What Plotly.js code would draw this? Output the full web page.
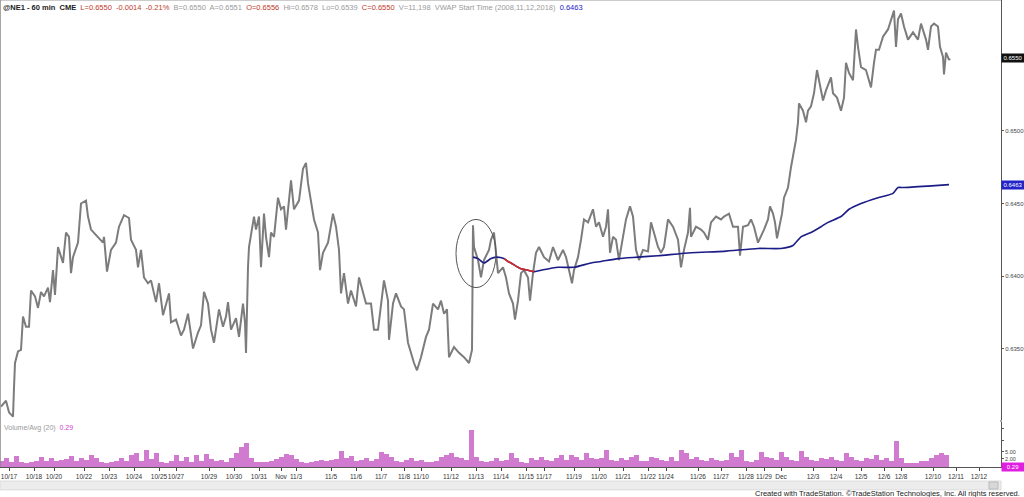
<!DOCTYPE html>
<html>
<head>
<meta charset="utf-8">
<script src="https://cdn.plot.ly/plotly-3.0.1.min.js"></script>
<style>
  html, body { margin: 0; padding: 0; background: #fff; }
  #chart { width: 1024px; height: 497px; }
</style>
</head>
<body>
<div id="chart"></div>
<script>
// ---- Price path (hourly bar index, close) ----
const priceBars = [0,5,8,12,13,14,17,20,22,25,28,30,34,37,40,43,47,49,52,54,57,62,65,68,70,72,77,80,85,87,90,97,102,103,106,110,115,118,123,128,130,135,137,140,143,147,150,155,158,162,165,168,170,175,180,183,187,192,197,200,203,207,210,213,218,222,225,227,230,235,238,242,244,245,247,248,253,255,258,260,263,265,268,270,273,277,280,283,285,290,293,298,302,305,307,310,313,317,319,322,327,332,335,338,340,343,347,350,355,358,362,365,370,373,377,380,383,387,388,392,395,400,403,407,410,413,416,420,425,428,432,437,440,443,446,448,453,458,463,468,471,472,473,477,480,483,488,490,493,495,497,502,505,508,512,514,517,520,523,527,529,532,535,538,543,548,552,557,562,565,568,571,573,577,580,583,587,592,595,598,602,605,607,609,612,615,618,622,625,629,632,635,638,642,647,650,653,657,660,663,667,672,677,680,683,687,689,690,695,700,703,707,710,715,720,723,728,732,737,739,742,747,750,753,757,760,763,767,769,772,774,776,778,781,783,787,790,793,795,797,798,802,805,807,810,813,816,818,822,825,830,832,836,840,843,845,848,852,855,857,860,865,870,873,875,878,882,887,891,893,895,897,900,903,907,912,917,920,925,927,930,933,937,939,942,943,945,948,949];
const priceClose = [0.6310,0.6314,0.6306,0.6303,0.6323,0.6340,0.6348,0.6349,0.6372,0.6365,0.6365,0.6390,0.6386,0.6378,0.6389,0.6386,0.6392,0.6382,0.6404,0.6387,0.6420,0.6409,0.6430,0.6427,0.6402,0.6413,0.6423,0.6450,0.6452,0.6441,0.6432,0.6427,0.6423,0.6427,0.6403,0.6418,0.6423,0.6434,0.6442,0.6440,0.6425,0.6418,0.6406,0.6418,0.6399,0.6395,0.6397,0.6382,0.6395,0.6373,0.6381,0.6388,0.6368,0.6370,0.6359,0.6363,0.6374,0.6350,0.6361,0.6366,0.6389,0.6381,0.6363,0.6354,0.6377,0.6365,0.6372,0.6382,0.6363,0.6371,0.6358,0.6381,0.6368,0.6347,0.6406,0.6420,0.6441,0.6432,0.6441,0.6406,0.6443,0.6427,0.6413,0.6430,0.6427,0.6454,0.6446,0.6448,0.6432,0.6466,0.6446,0.6452,0.6474,0.6478,0.6464,0.6452,0.6439,0.6430,0.6404,0.6416,0.6423,0.6443,0.6434,0.6418,0.6388,0.6402,0.6381,0.6390,0.6379,0.6399,0.6388,0.6381,0.6381,0.6363,0.6363,0.6381,0.6397,0.6383,0.6356,0.6381,0.6388,0.6379,0.6377,0.6354,0.6347,0.6340,0.6335,0.6344,0.6358,0.6363,0.6381,0.6377,0.6383,0.6374,0.6377,0.6344,0.6351,0.6347,0.6344,0.6340,0.6349,0.6435,0.6420,0.6411,0.6399,0.6411,0.6418,0.6425,0.6430,0.6416,0.6402,0.6406,0.6399,0.6388,0.6381,0.6370,0.6383,0.6402,0.6404,0.6399,0.6383,0.6402,0.6416,0.6420,0.6413,0.6410,0.6420,0.6411,0.6418,0.6413,0.6404,0.6395,0.6404,0.6413,0.6425,0.6439,0.6437,0.6446,0.6434,0.6437,0.6427,0.6434,0.6446,0.6416,0.6427,0.6425,0.6411,0.6427,0.6439,0.6448,0.6441,0.6418,0.6411,0.6418,0.6417,0.6437,0.6430,0.6420,0.6416,0.6420,0.6439,0.6434,0.6425,0.6406,0.6418,0.6430,0.6447,0.6427,0.6434,0.6432,0.6430,0.6425,0.6437,0.6441,0.6439,0.6441,0.6443,0.6434,0.6434,0.6414,0.6434,0.6435,0.6439,0.6434,0.6423,0.6427,0.6432,0.6439,0.6448,0.6443,0.6437,0.6426,0.6432,0.6443,0.6454,0.6461,0.6475,0.6485,0.6494,0.6506,0.6519,0.6514,0.6506,0.6514,0.6517,0.6526,0.6542,0.6535,0.6521,0.6528,0.6537,0.6526,0.6523,0.6514,0.6523,0.6547,0.6540,0.6535,0.6570,0.6558,0.6544,0.6542,0.6530,0.6547,0.6556,0.6556,0.6565,0.6570,0.6579,0.6583,0.6558,0.6577,0.6581,0.6572,0.6563,0.6568,0.6563,0.6574,0.6563,0.6556,0.6572,0.6574,0.6572,0.6558,0.6551,0.6539,0.6554,0.6549,0.6550];

// ---- VWAP anchored at 2008,11,12 ----
const vwapBars = [472,477,483,490,495,503,507,510,517,520,527,533,540,557,573,590,600,617,637,657,690,723,757,780,792,800,810,820,827,840,848,860,877,892,897,903,927,948];
const vwapVals = [0.6413,0.6412,0.6409,0.6412,0.6413,0.6412,0.6410,0.6409,0.6406,0.6405,0.6404,0.6403,0.6404,0.6406,0.6406,0.6409,0.6410,0.6412,0.6413,0.6414,0.6416,0.6417,0.6419,0.6419,0.6421,0.6427,0.6430,0.6434,0.6437,0.6441,0.6446,0.6450,0.6454,0.6457,0.6461,0.6461,0.6462,0.6463];
const vwapRedFrom = 503, vwapRedTo = 533;

// ---- Volume / Avg(20), one reading per 5 bars ----
const volStep = 5;
const volRatio = [1.0,2.6,0.8,3.4,0.6,0.4,0.5,1.3,2.8,1.2,2.2,0.9,1.4,2.0,3.4,1.2,2.4,1.5,3.8,2.6,0.5,0.4,0.6,1.0,2.6,1.0,3.5,4.6,1.2,5.8,1.8,4.4,0.6,0.4,1.3,3.5,1.0,2.7,0.8,3.6,1.2,4.2,2.0,0.9,1.5,0.8,2.2,4.5,7.3,9.0,2.5,0.7,0.5,0.6,0.9,2.0,2.8,4.2,3.9,2.0,0.6,0.4,0.5,1.2,1.5,1.0,1.4,2.0,5.6,2.5,3.3,1.0,1.4,2.2,1.0,2.0,5.1,4.0,3.0,1.2,0.8,1.5,2.2,1.0,1.5,0.8,0.7,1.0,3.0,3.7,4.4,3.0,2.2,1.5,14.5,3.0,1.0,0.8,1.0,2.2,1.0,1.5,4.4,2.2,0.5,0.4,2.2,1.6,3.0,1.5,1.2,2.2,3.7,1.4,3.7,3.0,1.5,4.4,2.2,1.8,2.2,6.0,1.5,1.0,2.2,1.4,3.0,3.7,0.9,1.2,3.0,2.2,1.5,1.2,3.0,1.0,5.8,4.4,1.8,3.0,1.5,1.0,2.2,1.5,1.2,1.5,4.4,3.0,6.0,1.0,0.8,1.5,5.0,3.0,2.2,1.5,5.0,3.0,1.5,1.0,5.6,3.0,1.5,1.0,2.2,1.8,3.0,1.5,1.0,4.4,3.0,1.5,1.0,2.2,2.0,3.7,1.5,2.2,1.0,9.9,2.2,0.2,0.2,0.3,1.0,1.2,2.2,3.7,4.4,3.7];
const volLast = 0.29;

// ---- Date tick labels (bar index where each session starts) ----
const tickBars = [8,33,53,83,108,133,158,175,208,233,258,280,295,330,355,380,403,420,450,475,500,525,543,573,598,622,647,665,697,720,745,763,780,812,835,860,883,900,932,955,978];
const tickLabels = ['10/17','10/18','10/20','10/22','10/23','10/24','10/25','10/27','10/29','10/30','10/31','Nov','11/3','11/5','11/6','11/7','11/8','11/10','11/12','11/13','11/14','11/15','11/17','11/19','11/20','11/21','11/22','11/24','11/26','11/27','11/28','11/29','Dec','12/3','12/4','12/5','12/6','12/8','12/10','12/11','12/12'];

const priceTicks = [0.6350,0.6400,0.6450,0.6500];
const lastPrice = 0.6550, lastVwap = 0.6463;

// ---- build ----
const VOL_FLOOR = -1.5;
const volBars = volRatio.map((v, i) => i * volStep);
const redIdx = vwapBars.map((b, i) => i).filter(i => vwapBars[i] >= vwapRedFrom && vwapBars[i] <= vwapRedTo);

const traces = [
  { type: 'bar', x: volBars, y: volRatio.map(v => v - VOL_FLOOR), base: VOL_FLOOR,
    width: 5, marker: { color: '#d07ad0', line: { width: 0 } }, xaxis: 'x', yaxis: 'y2', hoverinfo: 'skip' },
  { type: 'scatter', mode: 'lines', x: priceBars, y: priceClose,
    line: { color: '#7c7c7c', width: 2 }, xaxis: 'x', yaxis: 'y', hoverinfo: 'skip' },
  { type: 'scatter', mode: 'lines', x: vwapBars, y: vwapVals,
    line: { color: '#1c1c86', width: 1.6, shape: 'spline', smoothing: 0.6 }, xaxis: 'x', yaxis: 'y', hoverinfo: 'skip' },
  { type: 'scatter', mode: 'lines', x: redIdx.map(i => vwapBars[i]), y: redIdx.map(i => vwapVals[i]),
    line: { color: '#d42a2a', width: 1.6, shape: 'spline', smoothing: 0.6 }, xaxis: 'x', yaxis: 'y', hoverinfo: 'skip' }
];

const header =
  '<b>@NE1 - 60 min  CME</b>  ' +
  '<span style="color:#c0392b">L=0.6550  -0.0014  -0.21%</span>  ' +
  '<span style="color:#9a9a9a">B=0.6550  A=0.6551</span>  ' +
  '<span style="color:#c0392b">O=0.6556</span>  ' +
  '<span style="color:#9a9a9a">Hi=0.6578  Lo=0.6539</span>  ' +
  '<span style="color:#c0392b">C=0.6550</span>  ' +
  '<span style="color:#9a9a9a">V=11,198  VWAP Start Time (2008,11,12,2018)</span>  ' +
  '<span style="color:#2323c8">0.6463</span>';

const layout = {
  width: 1024, height: 497,
  margin: { l: 0, r: 23, t: 0, b: 30, pad: 0 },
  paper_bgcolor: '#ffffff', plot_bgcolor: '#ffffff',
  showlegend: false,
  bargap: 0,
  font: { family: 'Liberation Sans, Arial, sans-serif', size: 7, color: '#333' },
  xaxis: {
    range: [-1, 1000], anchor: 'y2', showgrid: false, zeroline: false,
    tickmode: 'array', tickvals: tickBars, ticktext: tickLabels, tickangle: 0,
    ticks: 'outside', ticklen: 3, tickcolor: '#444', showline: true, linecolor: '#555', linewidth: 1,
    tickfont: { size: 6.5, color: '#333' }
  },
  yaxis: {
    domain: [0.1006, 1], range: [0.63007, 0.65903], side: 'right', anchor: 'x',
    showgrid: false, zeroline: false, tickmode: 'array', tickvals: priceTicks,
    ticktext: priceTicks.map(v => v.toFixed(4)), ticks: 'outside', ticklen: 2, tickcolor: '#555',
    ticklabelstandoff: 0,
    showline: true, linecolor: '#555', linewidth: 1, tickfont: { size: 6, color: '#444' }
  },
  yaxis2: {
    domain: [0, 0.0964], range: [VOL_FLOOR, 18], side: 'right', anchor: 'x',
    showgrid: false, zeroline: false, tickmode: 'array', tickvals: [2, 5, 10, 15],
    ticktext: ['2.00', '5.00', '', ''], ticks: 'outside', ticklen: 2, tickcolor: '#555',
    ticklabelstandoff: 0,
    showline: true, linecolor: '#555', linewidth: 1, tickfont: { size: 5.5, color: '#444' }
  },
  shapes: [
    { type: 'line', xref: 'paper', yref: 'paper', x0: 0, x1: 0, y0: 0, y1: 1, line: { color: '#888', width: 1.5 } },
    { type: 'line', xref: 'paper', yref: 'paper', x0: 0, x1: 1, y0: 1, y1: 1, line: { color: '#999', width: 1 } },
    { type: 'line', xref: 'paper', yref: 'paper', x0: 1, x1: 1, y0: 0.0964, y1: 0.1006, line: { color: '#555', width: 1 } },
    { type: 'circle', xref: 'x', yref: 'y', x0: 455, x1: 495, y0: 0.6392, y1: 0.6439, line: { color: '#555', width: 1 } },
    { type: 'rect', xref: 'paper', yref: 'paper', x0: 0, x1: 1.0, y0: -0.030, y1: -0.049, fillcolor: '#ececec', line: { color: '#dcdcdc', width: 1 } },
    { type: 'rect', xref: 'paper', yref: 'paper', x0: 0.988, x1: 0.997, y0: -0.032, y1: -0.047, fillcolor: '#d8d8d8', line: { color: '#bbb', width: 1 } }
  ],
  annotations: [
    { xref: 'paper', yref: 'paper', x: 0.001, y: 0.997, xanchor: 'left', yanchor: 'top', showarrow: false,
      text: header, font: { size: 7.5, color: '#222' } },
    { xref: 'paper', yref: 'paper', x: 0.002, y: 0.097, xanchor: 'left', yanchor: 'top', showarrow: false,
      text: '<span style="color:#999">Volume/Avg (20)</span>  <span style="color:#d040d0">0.29</span>', font: { size: 7 } },
    { xref: 'paper', yref: 'y', x: 1.0, y: lastPrice, xanchor: 'left', yanchor: 'middle', showarrow: false,
      text: lastPrice.toFixed(4), bgcolor: '#111', font: { size: 6, color: '#fff' }, borderpad: 1, width: 20 },
    { xref: 'paper', yref: 'y', x: 1.0, y: lastVwap, xanchor: 'left', yanchor: 'middle', showarrow: false,
      text: lastVwap.toFixed(4), bgcolor: '#2323c8', font: { size: 6, color: '#fff' }, borderpad: 1, width: 20 },
    { xref: 'paper', yref: 'y2', x: 1.0, y: -1.3, xanchor: 'left', yanchor: 'middle', showarrow: false,
      text: volLast.toFixed(2), bgcolor: '#e020e0', font: { size: 6, color: '#fff' }, borderpad: 1, width: 20 },
    { xref: 'paper', yref: 'paper', x: 1.021, y: -0.056, xanchor: 'right', yanchor: 'middle', showarrow: false,
      text: 'Created with TradeStation. ©TradeStation Technologies, Inc. All rights reserved.', font: { size: 7.5, color: '#222' } }
  ]
};

Plotly.newPlot('chart', traces, layout, { staticPlot: true, displayModeBar: false });
</script>
</body>
</html>
